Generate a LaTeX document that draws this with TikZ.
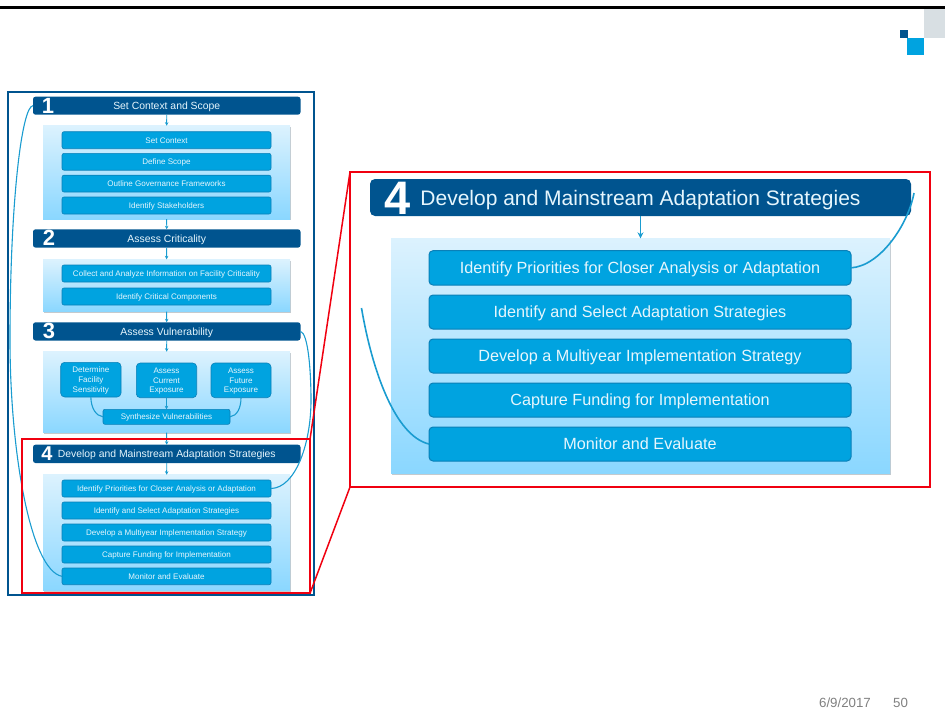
\documentclass[tikz,border=0pt]{standalone}
\usepackage{fontspec}
\setmainfont{Liberation Sans}
\usetikzlibrary{arrows.meta}
\definecolor{hdr}{HTML}{00548F}
\definecolor{bx}{HTML}{00A3E0}
\definecolor{bxl}{HTML}{0A80B8}
\definecolor{pt}{HTML}{DCF2FE}
\definecolor{pb}{HTML}{8AD7FF}
\definecolor{cn}{HTML}{1A9CD0}
\definecolor{txt}{HTML}{E6F6FD}
\definecolor{corner}{HTML}{D8DFE3}
\definecolor{shd}{HTML}{C4CACE}
\definecolor{redc}{HTML}{F00010}
\newcommand{\rb}[7][]{% name x0 y0 x1 y1 text
  \pgfmathsetmacro{\rcx}{(#3+#5)/2}\pgfmathsetmacro{\rcy}{(#4+#6)/2}
  \pgfmathsetmacro{\rw}{#5-#3}\pgfmathsetmacro{\rh}{#6-#4}
  \node[#1,minimum width=\rw pt,minimum height=\rh pt] (#2) at (\rcx,\rcy) {#7};}
\tikzset{
  base/.style={inner sep=0pt,outer sep=0pt,align=center},
  head/.style={base,text height=7.5pt,text depth=0pt,fill=hdr,rounded corners=2.5pt,text=txt,font=\fontsize{10.4}{12}\selectfont},
  headL/.style={base,text height=15.1pt,text depth=0pt,fill=hdr,rounded corners=5pt,text=txt,font=\fontsize{21}{24}\selectfont},
  panel/.style={base,top color=pt,bottom color=pb,preaction={fill=shd,transform canvas={xshift=.6pt,yshift=-1.2pt}}},
  item/.style={base,text height=5.8pt,text depth=0pt,fill=bx,draw=bxl,line width=.6pt,rounded corners=2pt,text=txt,font=\fontsize{8.05}{9.7}\selectfont},
  itemc/.style={item,rounded corners=4pt,text height=25.2pt},
  itemL/.style={base,text height=11.7pt,text depth=0pt,fill=bx,draw=bxl,line width=1pt,rounded corners=4pt,text=txt,font=\fontsize{16.2}{18}\selectfont},
  num/.style={inner sep=0pt,text=white,font=\fontsize{22}{22}\bfseries\selectfont},
  numL/.style={inner sep=0pt,text=white,font=\fontsize{47}{47}\bfseries\selectfont},
  arr/.style={draw=cn,line width=.9pt,-{Stealth[length=3.5pt,width=3.5pt]}},
  arrL/.style={draw=cn,line width=1.4pt,-{Stealth[length=6pt,width=6pt]}},
  link/.style={draw=cn,line width=1.1pt},
  linkL/.style={draw=cn,line width=1.6pt},
  anchorbox/.style={base},
  redline/.style={draw=redc,line width=1.5pt},
  frameline/.style={draw=hdr,line width=1.6pt},
  foot/.style={inner sep=0pt,text=black!50,font=\fontsize{13.3}{15}\selectfont}
}
\begin{document}
\begin{tikzpicture}[x=1pt,y=-1pt]
\useasboundingbox (0,0) rectangle (945,717);
% page furniture
\fill[black] (0,5.7) rectangle (945,9);
\fill[corner] (924,9) rectangle (945,38);
\fill[bx] (907,38) rectangle (924,55);
\fill[hdr] (900,30) rectangle (908,38);
\node[foot] (fdate) at (845,703) {6/9/2017};
\node[foot] (fpage) at (900.5,703) {50};
% small overview
\rb[anchorbox]{frame}{7.7}{92}{313.7}{594.7}{}
\draw[frameline] (frame.north west) rectangle (frame.south east);
\rb[panel]{p1}{43}{125.7}{290}{219}{}
\rb[panel]{p2}{43}{259.3}{290}{311.7}{}
\rb[panel]{p3}{43}{351.7}{290}{432.7}{}
\rb[panel]{p4}{43}{474.7}{290}{590.7}{}
\rb[head]{h1}{33}{96.7}{300.5}{114.7}{Set Context and Scope}
\rb[head]{h2}{33}{229.3}{300.5}{247.6}{Assess Criticality}
\rb[head]{h3}{33}{322.3}{300.5}{340.5}{Assess Vulnerability}
\rb[head]{h4}{33}{444.7}{300.5}{463}{Develop and Mainstream Adaptation Strategies}
\node[num] (n1) at (48,106) {1};
\node[num] (n2) at (49,238) {2};
\node[num] (n3) at (49,331) {3};
\node[num,font=\fontsize{20}{20}\bfseries\selectfont] (n4) at (47,454) {4};
\rb[item]{a1}{62}{131.7}{271}{148.7}{Set Context}
\rb[item]{a2}{62}{153.4}{271}{170.2}{Define Scope}
\rb[item]{a3}{62}{175.2}{271}{192}{Outline Governance Frameworks}
\rb[item]{a4}{62}{197}{271}{214}{Identify Stakeholders}
\rb[item]{b1}{62}{265}{271}{282}{Collect and Analyze Information on Facility Criticality}
\rb[item]{b2}{62}{288}{271}{305}{Identify Critical Components}
\rb[itemc]{c1}{60.7}{362.3}{121}{397}{Determine\\Facility\\Sensitivity}
\rb[itemc]{c2}{136.3}{363}{196.7}{397.7}{Assess\\Current\\Exposure}
\rb[itemc]{c3}{211}{363}{271}{397.7}{Assess\\Future\\Exposure}
\rb[item]{c4}{103}{409.3}{230}{424.3}{Synthesize Vulnerabilities}
\rb[item]{d1}{62}{480}{271}{497}{Identify Priorities for Closer Analysis or Adaptation}
\rb[item]{d2}{62}{502}{271}{519}{Identify and Select Adaptation Strategies}
\rb[item]{d3}{62}{524}{271}{541}{Develop a Multiyear Implementation Strategy}
\rb[item]{d4}{62}{546}{271}{563}{Capture Funding for Implementation}
\rb[item]{d5}{62}{568}{271}{584.7}{Monitor and Evaluate}
% connectors
\draw[arr] (h1) -- (p1);
\draw[arr] (p1) -- (h2);
\draw[arr] (h2) -- (p2);
\draw[arr] (p2) -- (h3);
\draw[arr] (h3) -- (p3);
\draw[arr] (p3) -- (h4);
\draw[arr] (h4) -- (p4);
\draw[arr] (c2) -- (c4);
\draw[link] (c1.south) .. controls (91,408) and (96,416) .. (c4.west);
\draw[link] (c3.south) .. controls (241,408) and (237,416) .. (c4.east);
\draw[link] (d5.west) .. controls (30,570) and (10,450) .. (10,340)
  .. controls (10,200) and (22,106) .. (h1.west);
\draw[link] (h3.east) .. controls (308,333) and (311,370) .. (311,400)
  .. controls (311,445) and (295,488) .. (d1.east);
% enlarged view
\rb[anchorbox]{lr}{350}{172}{930}{487}{}
\draw[redline] (lr.north west) rectangle (lr.south east);
\rb[panel]{pL}{391}{238.3}{890}{473.3}{}
\rb[headL]{hL}{370}{179}{911}{216}{Develop and Mainstream Adaptation Strategies}
\node[numL] (nL) at (398,198) {4};
\rb[itemL]{e1}{429}{250.7}{851}{285}{Identify Priorities for Closer Analysis or Adaptation}
\rb[itemL]{e2}{429}{295}{851}{329}{Identify and Select Adaptation Strategies}
\rb[itemL]{e3}{429}{339}{851}{373}{Develop a Multiyear Implementation Strategy}
\rb[itemL]{e4}{429}{383}{851}{417}{Capture Funding for Implementation}
\rb[itemL]{e5}{429}{427}{851}{461}{Monitor and Evaluate}
\draw[arrL] (hL) -- (pL);
\coordinate (lfree) at (361.5,308);
\coordinate (rfree) at (914,193);
\draw[linkL] (e5.west) .. controls (395,436) and (372,370) .. (lfree);
\draw[linkL] (e1.east) .. controls (880,266) and (908,225) .. (rfree);
% zoom marker on the overview, built from four filled bars
\rb[anchorbox]{zm}{21.7}{439.3}{310}{593.3}{}
\fill[redc] ([xshift=-1pt,yshift=1pt]zm.north west) rectangle ([xshift=1pt,yshift=-1pt]zm.north east);
\fill[redc] ([xshift=-1pt,yshift=1pt]zm.south west) rectangle ([xshift=1pt,yshift=-1pt]zm.south east);
\fill[redc] ([xshift=-1pt,yshift=1pt]zm.north west) rectangle ([xshift=1pt,yshift=-1pt]zm.south west);
\fill[redc] ([xshift=-1pt,yshift=1pt]zm.north east) rectangle ([xshift=1pt,yshift=-1pt]zm.south east);
\draw[redline] (zm.north east) -- (lr.north west);
\draw[redline] (zm.south east) -- (lr.south west);
\end{tikzpicture}
\end{document}
